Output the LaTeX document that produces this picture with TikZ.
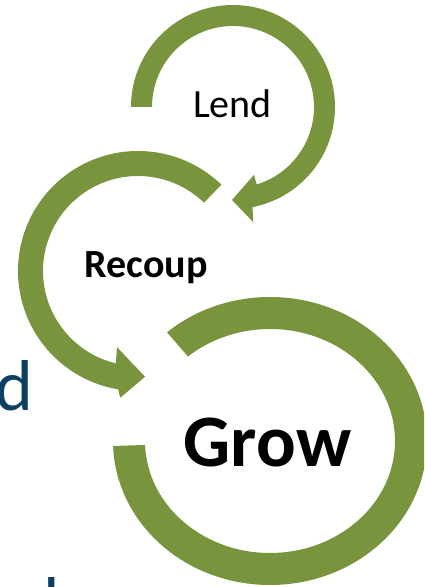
\documentclass[tikz,border=0pt]{standalone}
\usepackage{fontspec}
\setmainfont{Carlito}
\usetikzlibrary{calc}
\definecolor{olive}{RGB}{120,148,60}
\definecolor{navy}{RGB}{12,64,99}
\begin{document}
\begin{tikzpicture}[x=1pt,y=1pt,
  band/.style={fill=olive, draw=none},
  lbl/.style={anchor=base, inner sep=0pt, text=black},
  frag/.style={anchor=base west, inner sep=0pt, text=navy, font=\fontsize{72}{80}\selectfont}]
\useasboundingbox (0,0) rectangle (424,587);
\clip (0,0) rectangle (424,587);
% centres
\coordinate (L) at (233,480);
\coordinate (R) at (138,316);
\coordinate (G) at (270,146);
% Lend arrow (clockwise from the left)
\fill[band] ($(L)+(180:102)$) arc[start angle=180, end angle=-79, radius=102]
  -- ($(L)+(-80:117)$) -- ($(L)+(-90.6:93)$) -- ($(L)+(-72.8:71)$)
  -- ($(L)+(-73:81)$) arc[start angle=-73, end angle=180, radius=81] -- cycle;
% Recoup arrow (counter-clockwise from upper right)
\fill[band] ($(R)+(46:120)$) arc[start angle=46, end angle=260.5, radius=120]
  -- ($(R)+(262:128)$) -- ($(R)+(273.8:106)$) -- ($(R)+(254.6:79)$)
  -- ($(R)+(256.5:95)$) arc[start angle=256.5, end angle=46, radius=95] -- cycle;
% Grow ring (clockwise from upper left)
\fill[band] ($(G)+(131:157 and 144)$) arc[start angle=131, end angle=-178, x radius=157, y radius=144]
  -- ($(G)+(-178:125 and 112)$) arc[start angle=-178, end angle=131, x radius=125, y radius=112] -- cycle;
% labels
\node[lbl, font=\fontsize{40}{48}\selectfont] (lend) at (232.5,469) {Lend};
\node[lbl, font=\fontsize{40}{48}\selectfont\bfseries] (recoup) at (146,309) {Recoup};
\node[lbl, font=\fontsize{74}{88}\selectfont\bfseries] (grow) at (267.5,120) {Grow};
% cut-off text fragments at the left
\node[frag] (fragd) at (-5,176) {d};
\node[frag] (fragl) at (43,-41) {l};
\end{tikzpicture}
\end{document}
